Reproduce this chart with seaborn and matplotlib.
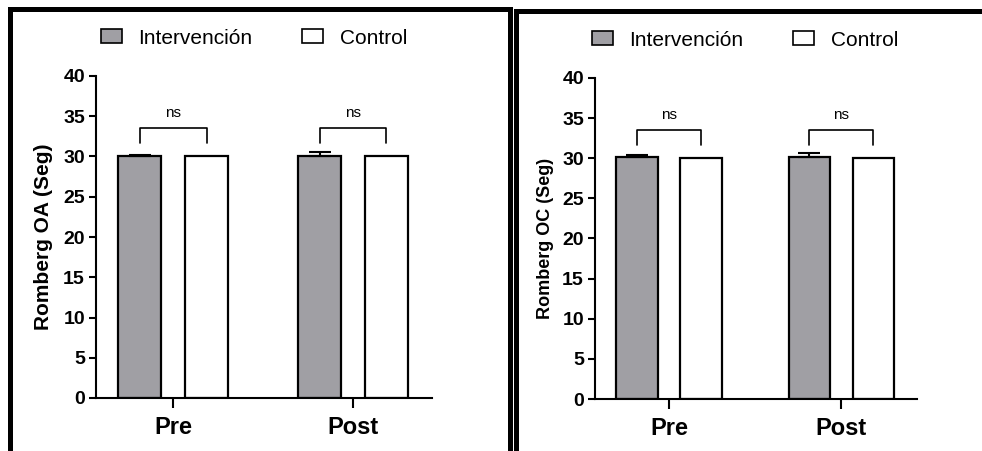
import matplotlib
matplotlib.use('Agg')
import matplotlib.pyplot as plt
from matplotlib.patches import Patch, Rectangle
import pandas as pd
import seaborn as sns

GRAY = '#a09fa4'

moments = ['Pre', 'Post']
groups = ['Intervención', 'Control']

# Romberg ojos abiertos
oa_interv = [30.0, 30.1]
oa_interv_err = [0.15, 0.4]
oa_control = [30.0, 30.0]

# Romberg ojos cerrados
oc_interv = [30.1, 30.2]
oc_interv_err = [0.25, 0.5]
oc_control = [30.0, 30.0]

sig_labels = ['ns', 'ns']

sns.set_style('ticks')
plt.rcParams['font.family'] = ['Liberation Sans', 'DejaVu Sans']
plt.rcParams['text.color'] = 'black'
plt.rcParams['axes.edgecolor'] = 'black'
plt.rcParams['axes.labelcolor'] = 'black'
plt.rcParams['xtick.color'] = 'black'
plt.rcParams['ytick.color'] = 'black'


def build_df(interv, control):
    return pd.DataFrame({'Momento': moments * 2,
                         'Grupo': [groups[0]] * 2 + [groups[1]] * 2,
                         'value': interv + control})


def plot_panel(ax, interv, interv_err, control, ylabel, ylabel_size):
    df = build_df(interv, control)
    sns.barplot(data=df, x='Momento', y='value', hue='Grupo', order=moments, hue_order=groups,
                palette={groups[0]: GRAY, groups[1]: 'white'}, edgecolor='black', linewidth=1.6,
                width=0.744, gap=0.357, errorbar=None, legend=False, saturation=1, ax=ax)

    # error bars (upper only) on the intervention bars
    bars_int = ax.containers[0]
    xs = [p.get_x() + p.get_width() / 2 for p in bars_int]
    ys = [p.get_height() for p in bars_int]
    ax.errorbar(xs, ys, yerr=[[0] * len(xs), interv_err], fmt='none', ecolor='black',
                elinewidth=1.5, capsize=8, capthick=1.5, zorder=1)

    # significance brackets
    bars_ctl = ax.containers[1]
    for i, lab in enumerate(sig_labels):
        x1 = bars_int[i].get_x() + bars_int[i].get_width() / 2
        x2 = bars_ctl[i].get_x() + bars_ctl[i].get_width() / 2
        ax.plot([x1, x1, x2, x2], [31.7, 33.5, 33.5, 31.7], color='black', lw=1.2)
        ax.text((x1 + x2) / 2, 35.4, lab, ha='center', va='center', fontsize=11)

    ax.set_ylim(0, 40)
    ax.set_xlim(-0.43, 1.44)
    ax.set_yticks(range(0, 41, 5))
    ax.set_xlabel('')
    ax.set_ylabel(ylabel, fontsize=ylabel_size, fontweight='bold')
    ax.yaxis.set_label_coords(-0.128, 0.5)
    sns.despine(ax=ax)
    for s in ['left', 'bottom']:
        ax.spines[s].set_linewidth(1.5)
    ax.tick_params(axis='y', length=5, width=1.5, pad=3, labelsize=14)
    ax.tick_params(axis='x', length=7, width=1.5, pad=6, labelsize=17)
    for t in ax.get_yticklabels() + ax.get_xticklabels():
        t.set_fontweight('bold')


fig = plt.figure(figsize=(9.82, 4.51), dpi=100)

ax1 = fig.add_axes([96 / 982, 53 / 451, 336 / 982, 322 / 451])
plot_panel(ax1, oa_interv, oa_interv_err, oa_control, 'Romberg OA (Seg)', 15)

ax2 = fig.add_axes([595 / 982, 52 / 451, 322 / 982, 321 / 451])
plot_panel(ax2, oc_interv, oc_interv_err, oc_control, 'Romberg OC (Seg)', 13)

handles = [Patch(facecolor=GRAY, edgecolor='black', linewidth=1.2, label=groups[0]),
           Patch(facecolor='white', edgecolor='black', linewidth=1.2, label=groups[1])]
for cx, cy in [(254 / 982, 413 / 451), (745 / 982, 411 / 451)]:
    fig.legend(handles=handles, loc='center', bbox_to_anchor=(cx, cy), ncol=2, frameon=False,
               fontsize=15, handlelength=1.0, handleheight=0.65, handletextpad=0.8,
               columnspacing=2.4)

# panel frames
fig.add_artist(Rectangle((9.5 / 982, -0.1), 500 / 982, 0.1 + (451 - 9) / 451,
                         transform=fig.transFigure, fill=False, edgecolor='black', linewidth=3.6))
fig.add_artist(Rectangle((515.5 / 982, -0.1), 0.6, 0.1 + (451 - 11) / 451,
                         transform=fig.transFigure, fill=False, edgecolor='black', linewidth=3.6))

fig.savefig('out.png', dpi=100)
plt.close()
